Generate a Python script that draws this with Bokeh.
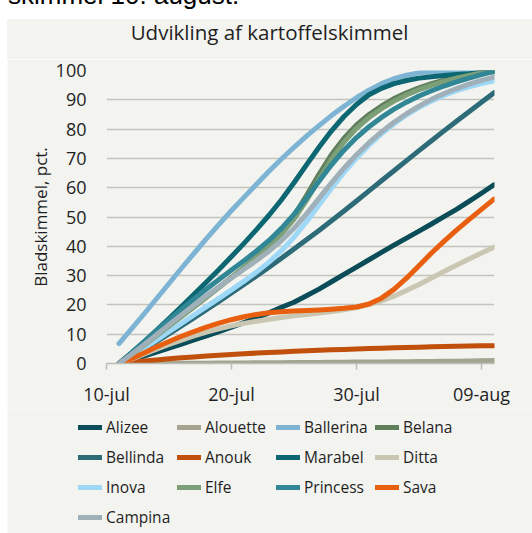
import pandas as pd
from bokeh.plotting import figure
from bokeh.models import Range1d, FixedTicker, Legend, LegendItem, Div
from bokeh.layouts import column, row
from bokeh.embed import file_html
from bokeh.resources import INLINE

# ---------------- data ----------------
dates = ["2013-07-11", "2013-07-12", "2013-07-13", "2013-07-14", "2013-07-15", "2013-07-16",
         "2013-07-17", "2013-07-18", "2013-07-19", "2013-07-20", "2013-07-21", "2013-07-22",
         "2013-07-23", "2013-07-24", "2013-07-25", "2013-07-26", "2013-07-27", "2013-07-28",
         "2013-07-29", "2013-07-30", "2013-07-31", "2013-08-01", "2013-08-02", "2013-08-03",
         "2013-08-04", "2013-08-05", "2013-08-06", "2013-08-07", "2013-08-08", "2013-08-09",
         "2013-08-10"]

alizee    = [0, 1.2, 2.5, 3.85, 5.25, 6.65, 8.05, 9.45, 10.9, 12.4, 13.95, 15.6, 17.3, 19.2,
             20.9, 23.1, 25.4, 27.9, 30.4, 32.9, 35.4, 37.9, 40.4, 42.8, 45.2, 47.6, 50.1,
             52.6, 55.3, 58.1, 61.0]
alouette  = [0, 0, 0.02, 0.04, 0.06, 0.08, 0.1, 0.12, 0.15, 0.18, 0.2, 0.23, 0.26, 0.29,
             0.32, 0.35, 0.38, 0.41, 0.44, 0.47, 0.5, 0.54, 0.58, 0.62, 0.66, 0.7, 0.75,
             0.8, 0.86, 0.93, 1.0]
ballerina = [6.8, 11.8, 16.9, 22.1, 27.3, 32.5, 37.6, 42.6, 47.5, 52.2, 56.7, 61.2, 65.6,
             69.8, 73.8, 77.6, 81.2, 84.6, 87.8, 90.7, 93.3, 95.5, 97.2, 98.4, 99.2, 99.6,
             99.8, 99.9, 100, 100, 100]
belana    = [0, 3.0, 6.2, 9.5, 12.8, 16.1, 19.4, 22.7, 26.0, 29.35, 32.8, 36.45, 40.4, 45.0,
             50.5, 57.3, 64.6, 71.3, 76.9, 81.4, 85.0, 87.9, 90.4, 92.4, 94.1, 95.5, 96.7,
             97.7, 98.6, 99.3, 99.6]
bellinda  = [0, 2.4, 4.9, 7.5, 10.15, 12.85, 15.6, 18.4, 21.2, 24.05, 26.95, 29.9, 32.9,
             35.95, 39.05, 42.2, 45.4, 48.7, 52.05, 55.45, 58.9, 62.35, 65.8, 69.25, 72.65,
             76.05, 79.4, 82.7, 85.95, 89.15, 92.4]
anouk     = [0, 0.45, 0.85, 1.23, 1.59, 1.93, 2.25, 2.55, 2.83, 3.09, 3.33, 3.55, 3.76, 3.96,
             4.15, 4.33, 4.5, 4.66, 4.81, 4.96, 5.1, 5.23, 5.35, 5.47, 5.58, 5.68, 5.78, 5.87,
             5.95, 6.03, 6.1]
marabel   = [0, 3.6, 7.4, 11.3, 15.3, 19.4, 23.6, 27.8, 32.1, 36.5, 41.0, 45.7, 50.6, 55.9,
             61.7, 67.8, 73.8, 79.4, 84.3, 88.4, 91.7, 93.9, 95.5, 96.6, 97.4, 97.9, 98.3,
             98.6, 98.9, 99.3, 99.7]
ditta     = [0, 1.5, 3.2, 4.9, 6.5, 8.0, 9.4, 10.7, 11.85, 12.85, 13.7, 14.45, 15.1, 15.7,
             16.25, 16.75, 17.25, 17.75, 18.35, 19.1, 20.1, 21.4, 23.0, 24.9, 27.0, 29.2,
             31.4, 33.55, 35.65, 37.7, 39.7]
inova     = [0, 2.5, 5.2, 8.0, 10.85, 13.7, 16.55, 19.4, 22.25, 25.15, 28.1, 31.2, 34.6, 38.5,
             43.1, 48.4, 54.1, 59.8, 65.2, 70.1, 74.5, 78.4, 81.8, 84.8, 87.4, 89.6, 91.5,
             93.1, 94.4, 95.5, 96.5]
elfe      = [0, 3.0, 6.2, 9.5, 12.8, 16.1, 19.4, 22.7, 26.0, 29.35, 32.8, 36.45, 40.25, 44.25,
             49.25, 55.65, 62.75, 69.75, 75.55, 80.25, 83.95, 86.95, 89.55, 91.65, 93.45,
             94.95, 96.25, 97.35, 98.35, 99.2, 99.6]
princess  = [0, 3.6, 7.4, 11.2, 14.9, 18.5, 22.0, 25.4, 28.7, 31.9, 35.1, 38.4, 42.0, 46.1,
             50.9, 56.4, 62.2, 67.8, 72.8, 77.1, 80.8, 84.0, 86.8, 89.2, 91.3, 93.1, 94.7,
             96.1, 97.4, 98.6, 99.7]
sava      = [0, 1.6, 3.6, 5.6, 7.5, 9.3, 10.9, 12.4, 13.75, 14.95, 15.95, 16.75, 17.3, 17.65,
             17.9, 18.1, 18.3, 18.55, 18.85, 19.3, 20.3, 22.3, 25.3, 29.1, 33.4, 37.7, 41.7,
             45.5, 49.1, 52.6, 56.1]
campina   = [0, 3.1, 6.4, 9.8, 13.2, 16.6, 19.9, 23.1, 26.2, 29.2, 32.15, 35.15, 38.35, 41.95,
             46.15, 51.05, 56.35, 61.65, 66.65, 71.25, 75.35, 79.05, 82.35, 85.25, 87.85,
             90.15, 92.15, 93.85, 95.35, 96.65, 97.75]

names = ["Alizee", "Alouette", "Ballerina", "Belana", "Bellinda", "Anouk", "Marabel",
         "Ditta", "Inova", "Elfe", "Princess", "Sava", "Campina"]
values = [alizee, alouette, ballerina, belana, bellinda, anouk, marabel,
          ditta, inova, elfe, princess, sava, campina]
colors = ["#0a4d58", "#a5a491", "#7db4d3", "#5f7f5d", "#2d6b79", "#c0500c", "#0d6772",
          "#c9c7b1", "#9dd8f6", "#7d9f78", "#318795", "#e8600f", "#9fb0b8"]

tick_dates = ["2013-07-10", "2013-07-20", "2013-07-30", "2013-08-09"]
tick_labels = ["10-jul", "20-jul", "30-jul", "09-aug"]
y_ticks = [0, 10, 20, 30, 40, 50, 60, 70, 80, 90, 100]

page_text = "skimmel 10. august."
title_text = "Udvikling af kartoffelskimmel"
y_label = "Bladskimmel, pct."

# ---------------- styling ----------------
BG = "#f3f3ef"
TXT = "#1f1f1f"
FONT = "Open Sans"
LM = 7   # white strip left of the grey panel

x = pd.to_datetime(dates)
x_start = pd.Timestamp("2013-07-10")
x_end = pd.Timestamp("2013-08-10") + pd.Timedelta(hours=1)

p = figure(width=525, height=350, x_axis_type="datetime",
           x_range=Range1d(x_start, x_end), y_range=Range1d(0, 100),
           output_backend="svg", toolbar_location=None,
           background_fill_color=BG, border_fill_color=BG,
           min_border_left=99, min_border_right=38, min_border_top=11,
           min_border_bottom=46, margin=(0, 0, 0, LM))
p.outline_line_color = None

for name, vals, col in zip(names, values, colors):
    p.line(x=x, y=vals, line_color=col, line_width=5,
           line_cap="round", line_join="round")

# grid
p.xgrid.visible = False
p.ygrid.grid_line_color = "#c4c4bf"
p.ygrid.grid_line_width = 1.5
p.ygrid.ticker = FixedTicker(ticks=y_ticks)

# y axis
p.yaxis.ticker = FixedTicker(ticks=y_ticks)
p.yaxis.axis_line_color = None
p.yaxis.major_tick_line_color = None
p.yaxis.minor_tick_line_color = None
p.yaxis.major_tick_out = 0
p.yaxis.major_tick_in = 0
p.yaxis.minor_tick_out = 0
p.yaxis.minor_tick_in = 0
p.yaxis.major_label_standoff = 20
p.yaxis.major_label_text_font = FONT
p.yaxis.major_label_text_font_size = "18px"
p.yaxis.major_label_text_color = TXT
p.yaxis.axis_label = y_label
p.yaxis.axis_label_text_font = FONT
p.yaxis.axis_label_text_font_size = "17px"
p.yaxis.axis_label_text_font_style = "normal"
p.yaxis.axis_label_text_color = TXT
p.yaxis.axis_label_standoff = 1

# x axis
tick_ms = [pd.Timestamp(d).timestamp() * 1000 for d in tick_dates]
p.xaxis.ticker = FixedTicker(ticks=tick_ms)
p.xaxis.major_label_overrides = {t: lab for t, lab in zip(tick_ms, tick_labels)}
p.xaxis.axis_line_color = "#bdbdb8"
p.xaxis.axis_line_width = 1.5
p.xaxis.major_tick_line_color = "#bdbdb8"
p.xaxis.major_tick_line_width = 1.5
p.xaxis.major_tick_out = 6
p.xaxis.major_tick_in = 0
p.xaxis.minor_tick_line_color = None
p.xaxis.minor_tick_out = 0
p.xaxis.minor_tick_in = 0
p.xaxis.major_label_standoff = 12
p.xaxis.major_label_text_font = FONT
p.xaxis.major_label_text_font_size = "18px"
p.xaxis.major_label_text_color = TXT

# ---------------- legend (own panel below the chart) ----------------
lf = figure(width=525, height=124, x_range=p.x_range, y_range=p.y_range,
            output_backend="svg", toolbar_location=None,
            x_axis_location=None, y_axis_location=None,
            background_fill_color=BG, border_fill_color=BG,
            min_border=0, margin=(0, 0, 0, 0))
lf.outline_line_color = None
lf.grid.visible = False

legend_renderers = []
for name, vals, col in zip(names, values, colors):
    r = lf.line(x=x, y=vals, line_color=col, line_width=5,
                line_cap="round", line_join="round", visible=False)
    legend_renderers.append(r)

items = [LegendItem(label=n, renderers=[r]) for n, r in zip(names, legend_renderers)]
legend = Legend(items=items, location=(71, 3), orientation="horizontal", ncols=4,
                glyph_width=24, glyph_height=26, label_height=26, label_width=67,
                label_standoff=4, spacing=4, padding=0, margin=0,
                border_line_color=None, background_fill_alpha=0,
                label_text_font=FONT, label_text_font_size="15.5px",
                label_text_color=TXT, click_policy="none")
lf.add_layout(legend)

# ---------------- page strip above the chart (cut-off article text) ----------------
header = Div(text=(f'<div style="position:relative;top:-18px;left:8px;white-space:nowrap;'
                   f'font-family:\'Liberation Sans\';font-size:26px;line-height:26px;'
                   f'color:#000000;">{page_text}</div>'),
             width=532, height=19, margin=(0, 0, 0, 0),
             styles={"overflow": "hidden", "background-color": "#ffffff"})

title = Div(text=title_text, width=525, height=40, margin=(0, 0, 0, LM),
            styles={"background-color": BG, "text-align": "center",
                    "font-family": FONT, "font-size": "20.5px", "color": TXT,
                    "line-height": "26px"})

legend_row = row(lf, margin=(0, 0, 0, LM))
layout = column(header, title, p, legend_row, spacing=0)
open("out.html", "w").write(file_html(layout, INLINE))
